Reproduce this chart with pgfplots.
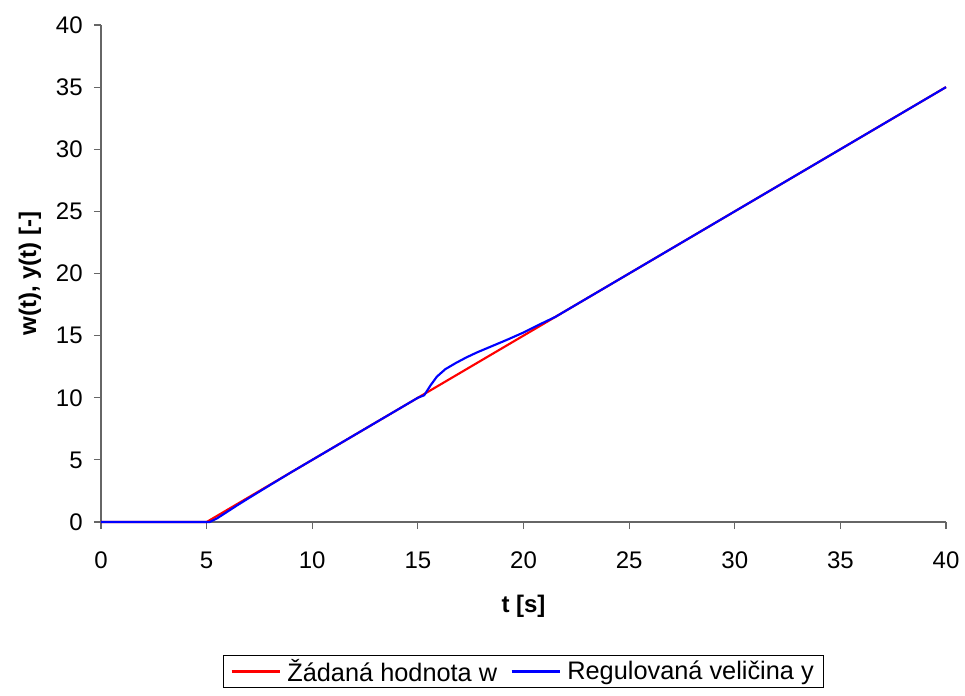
\documentclass[border=0pt]{standalone}
\usepackage{pgfplots}
\pgfplotsset{compat=1.18}
\usepackage{fontspec}
\setmainfont{Liberation Sans}
\begin{document}
\begin{tikzpicture}
\begin{axis}[
  scale only axis,
  width=633.75pt, height=372.75pt,
  xmin=0, xmax=40, ymin=0, ymax=40,
  xtick={0,5,...,40}, ytick={0,5,...,40},
  axis x line*=bottom, axis y line*=left,
  axis line style={draw=gray!80!black, line width=0.8pt, -},
  tick style={draw=gray!80!black, line width=0.8pt},
  tick align=outside, major tick length=5.25pt,
  /pgf/number format/assume math mode=true,
  ticklabel style={font=\fontsize{18}{20}\selectfont},
  xticklabel style={yshift=-13.5pt},
  yticklabel style={xshift=-5pt},
  xlabel={\textbf{t [s]}}, ylabel={\textbf{w(t), y(t) [-]}},
  label style={font=\fontsize{18}{20}\selectfont},
  xlabel style={at={(axis description cs:0.5,-0.169)}, anchor=center},
  ylabel style={at={(axis description cs:-0.084,0.5)}, anchor=center},
  legend columns=2,
  legend image code/.code={\draw[#1] (0pt,0pt) -- (36pt,0pt);},
  legend style={at={(0.5,-0.2676)}, anchor=north, draw=black, line width=0.6pt,
    font=\fontsize{19}{21}\selectfont, inner ysep=1pt, inner xsep=5pt,
    /tikz/every odd column/.append style={column sep=3pt},
    /tikz/every even column/.append style={column sep=8pt}},
  legend cell align=left,
  clip=false,
]
\addplot[red, line width=1.6pt] coordinates {(0,0) (5,0) (40,35)};
\addlegendentry{Žádaná hodnota w}
\addplot[blue, line width=1.6pt] coordinates {
(0,0) (5.15,0) (5.5,0.3) (6,0.85) (6.5,1.4) (7,1.93) (8,2.97) (9,4) (10,5) (15,10)
(15.3,10.2) (15.6,11.0) (15.9,11.7) (16.3,12.3) (16.8,12.8) (17.3,13.25) (17.8,13.65)
(18.5,14.15) (19.2,14.65) (20,15.25) (20.7,15.85) (21.5,16.5) (22,17) (40,35)};
\addlegendentry{Regulovaná veličina y}
\end{axis}
\pgfresetboundingbox
\useasboundingbox ([shift={(-75.75pt,-129.75pt)}]current axis.south west) rectangle ([shift={(14.25pt,18.75pt)}]current axis.north east);
\end{tikzpicture}
\end{document}
